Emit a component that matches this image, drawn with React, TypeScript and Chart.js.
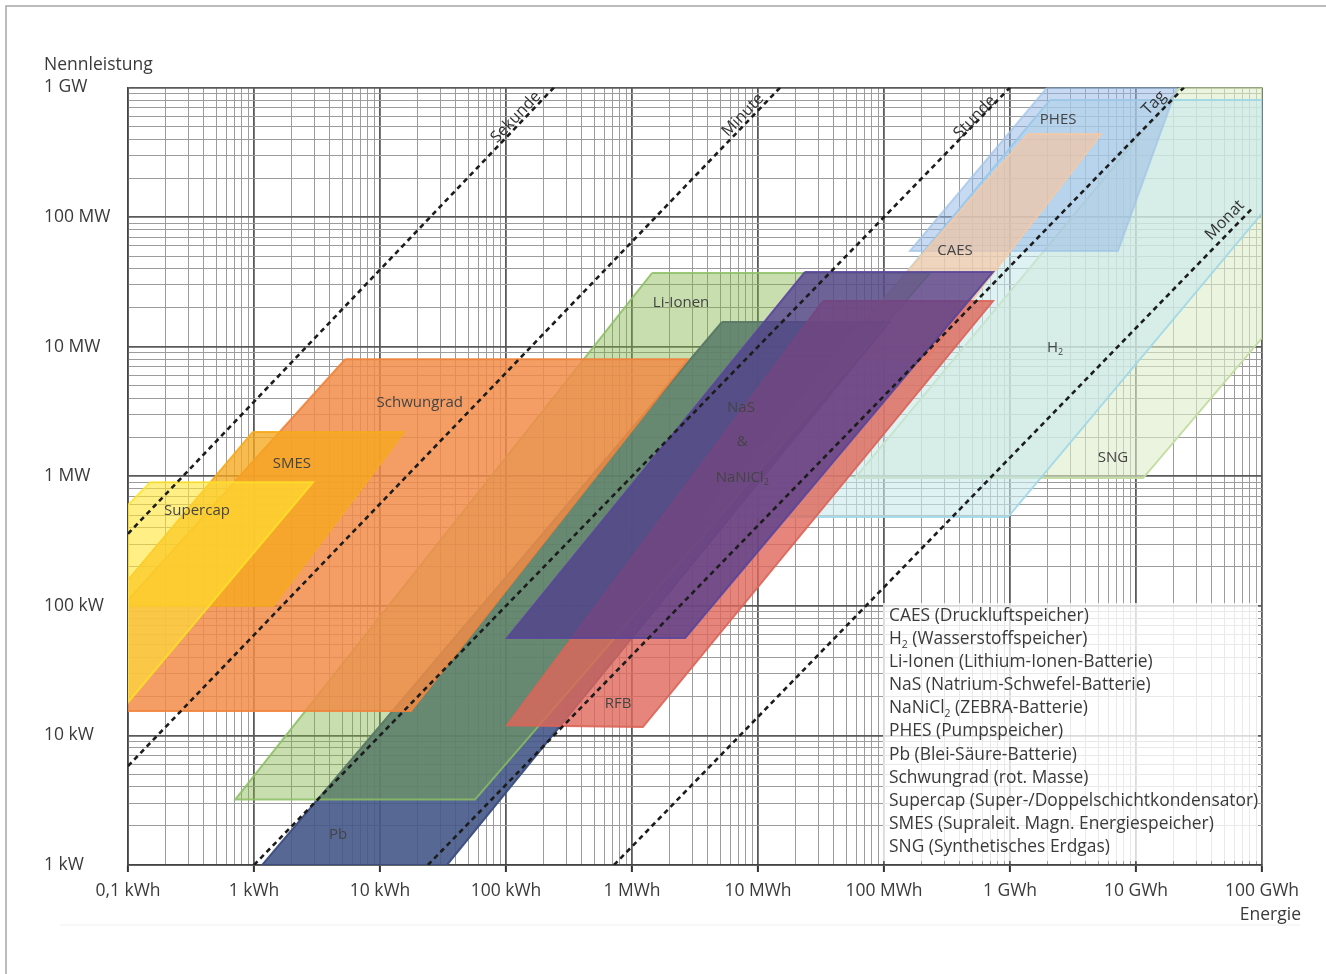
import React, { useEffect, useRef } from 'react';
import { Chart, registerables } from 'chart.js';

Chart.register(...registerables);

const FONT = "'Open Sans', 'Noto Sans', 'DejaVu Sans', sans-serif";
const INK = '#3a3a3a';

// ---- Axis tick labels (one per decade) ----
const xTickLabels = ['0,1 kWh', '1 kWh', '10 kWh', '100 kWh', '1 MWh', '10 MWh', '100 MWh', '1 GWh', '10 GWh', '100 GWh'];
const yTickLabels = ['1 kW', '10 kW', '100 kW', '1 MW', '10 MW', '100 MW', '1 GW'];

// ---- Storage regions: polygon vertices, energy (kWh) and power (kW) ----
const supercapEnergy = [0.15, 2.94, 0.1, 0.1];
const supercapPower = [900, 900, 18, 600];
const smesEnergy = [0.98, 15.5, 1.42, 0.1, 0.1];
const smesPower = [2200, 2200, 100, 100, 158];
const schwungradEnergy = [5.3, 2780, 17.6, 0.1, 0.1];
const schwungradPower = [8000, 8000, 15.4, 15.4, 111];
const liIonenEnergy = [1440, 232000, 56.8, 0.71];
const liIonenPower = [37000, 37000, 3.2, 3.2];
const pbEnergy = [5180, 110000, 34, 1.16];
const pbPower = [15500, 15500, 1, 1];
const nasEnergy = [23600, 733000, 2640, 102];
const nasPower = [37700, 37700, 56.5, 56.5];
const rfbEnergy = [32800, 733000, 1220, 102];
const rfbPower = [22500, 22500, 11.6, 12];
const caesEnergy = [1.39e6, 5.27e6, 215000, 37300];
const caesPower = [437000, 437000, 7900, 7900];
const phesEnergy = [1.97e6, 2.11e7, 7.19e6, 160600];
const phesPower = [1e6, 1e6, 54700, 54700];
const h2Energy = [2.07e6, 1e8, 1e8, 964000, 3660];
const h2Power = [800000, 800000, 107000, 484, 484];
const sngEnergy = [2.23e7, 1e8, 1e8, 1.14e7, 58900];
const sngPower = [1e6, 1e6, 11650, 968, 968];

// ---- Discharge-time reference lines (endpoints) ----
const sekundeEnergy = [0.1, 240];
const sekundePower = [360, 1e6];
const minuteEnergy = [0.1, 15000];
const minutePower = [5.8, 1e6];
const stundeEnergy = [1, 1e6];
const stundePower = [1, 1e6];
const tagEnergy = [24, 2.4e7];
const tagPower = [1, 1e6];
const monatEnergy = [720, 8.6e7];
const monatPower = [1, 1.2e5];

// ---- Text annotations (energy kWh, power kW) ----
const regionLabels: [string, number, number][] = [
  ['PHES', 2.41e6, 560000],
  ['CAES', 366000, 54700],
  ['Li-Ionen', 2450, 21700],
  ['H_2', 2.28e6, 9750],
  ['Schwungrad', 20.7, 3670],
  ['NaS', 7330, 3360],
  ['&', 7500, 1835],
  ['NaNiCl_2', 7500, 968],
  ['SMES', 2.0, 1243],
  ['SNG', 6.56e6, 1381],
  ['Supercap', 0.353, 539],
  ['RFB', 774, 17.5],
  ['Pb', 4.64, 1.7],
];
const lineLabelNames = ['Sekunde', 'Minute', 'Stunde', 'Tag', 'Monat'];
const lineLabelEnergy = [120, 7600, 527000, 1.39e7, 5.08e7];
const lineLabelPower = [591000, 612000, 591000, 758000, 94800];

const legendEntries = [
  'CAES (Druckluftspeicher)',
  'H_2 (Wasserstoffspeicher)',
  'Li-Ionen (Lithium-Ionen-Batterie)',
  'NaS (Natrium-Schwefel-Batterie)',
  'NaNiCl_2 (ZEBRA-Batterie)',
  'PHES (Pumpspeicher)',
  'Pb (Blei-Säure-Batterie)',
  'Schwungrad (rot. Masse)',
  'Supercap (Super-/Doppelschichtkondensator)',
  'SMES (Supraleit. Magn. Energiespeicher)',
  'SNG (Synthetisches Erdgas)',
];

function pts(e: number[], p: number[], close: boolean) {
  const a = e.map((v, i) => ({ x: v, y: p[i] }));
  if (close) a.push({ x: e[0], y: p[0] });
  return a;
}

function region(label: string, e: number[], p: number[], fill: string, edge: string) {
  return {
    label,
    data: pts(e, p, true),
    backgroundColor: fill,
    borderColor: edge,
    borderWidth: 2,
    fill: 'shape',
    pointRadius: 0,
    tension: 0,
    clip: 0,
  };
}

function dashed(label: string, e: number[], p: number[]) {
  return {
    label,
    data: pts(e, p, false),
    borderColor: '#1c1c1c',
    borderWidth: 2.6,
    borderDash: [5, 4],
    fill: false,
    pointRadius: 0,
    tension: 0,
    clip: 0,
  };
}

const lineSets = [
  [sekundeEnergy, sekundePower],
  [minuteEnergy, minutePower],
  [stundeEnergy, stundePower],
  [tagEnergy, tagPower],
  [monatEnergy, monatPower],
];

function isMajor(v: number | undefined) {
  if (v === undefined || v <= 0) return false;
  const l = Math.log10(v);
  return Math.abs(l - Math.round(l)) < 1e-6;
}

function logTicks(minExp: number, maxExp: number) {
  const t: { value: number }[] = [];
  for (let e = minExp; e < maxExp; e++) {
    for (let m = 1; m < 10; m++) t.push({ value: parseFloat((m * Math.pow(10, e)).toPrecision(6)) });
  }
  t.push({ value: Math.pow(10, maxExp) });
  return t;
}

function drawRich(ctx: CanvasRenderingContext2D, text: string, x: number, y: number, size: number, align: 'left' | 'center' | 'right') {
  const parts: { t: string; sub: boolean }[] = [];
  let buf = '';
  for (let i = 0; i < text.length; i++) {
    if (text[i] === '_' && i + 1 < text.length) {
      if (buf) parts.push({ t: buf, sub: false });
      buf = '';
      parts.push({ t: text[i + 1], sub: true });
      i++;
    } else buf += text[i];
  }
  if (buf) parts.push({ t: buf, sub: false });
  const widths = parts.map((p) => {
    ctx.font = `${p.sub ? size * 0.6 : size}px ${FONT}`;
    return ctx.measureText(p.t).width;
  });
  const total = widths.reduce((s, w) => s + w, 0);
  let cx = align === 'center' ? x - total / 2 : align === 'right' ? x - total : x;
  ctx.textAlign = 'left';
  ctx.textBaseline = 'middle';
  parts.forEach((p, k) => {
    ctx.font = `${p.sub ? size * 0.6 : size}px ${FONT}`;
    ctx.fillText(p.t, cx, p.sub ? y + size * 0.32 : y);
    cx += widths[k];
  });
}

const decor = {
  id: 'decor',
  afterDatasetsDraw(chart: any) {
    const { ctx, chartArea: a, scales } = chart;
    const xs = scales.x;
    const ys = scales.y;
    ctx.save();
    // region labels
    ctx.fillStyle = '#444';
    regionLabels.forEach(([t, e, p]) => {
      drawRich(ctx, t, xs.getPixelForValue(e), ys.getPixelForValue(p), 15, 'center');
    });
    // discharge-time line labels
    ctx.fillStyle = '#333';
    lineLabelNames.forEach((t, i) => {
      const [le, lp] = lineSets[i];
      const dx = xs.getPixelForValue(le[1]) - xs.getPixelForValue(le[0]);
      const dy = ys.getPixelForValue(lp[1]) - ys.getPixelForValue(lp[0]);
      const ang = Math.atan2(dy, dx);
      ctx.save();
      ctx.translate(xs.getPixelForValue(lineLabelEnergy[i]), ys.getPixelForValue(lineLabelPower[i]));
      ctx.rotate(ang);
      ctx.font = `16px ${FONT}`;
      ctx.textAlign = 'center';
      ctx.textBaseline = 'middle';
      ctx.fillText(t, 0, 0);
      ctx.restore();
    });
    // legend box
    const lx = a.left + 761;
    const ly0 = a.bottom - 249;
    const step = 23.1;
    ctx.fillStyle = 'rgba(255,255,255,0.78)';
    ctx.fillRect(lx - 6, ly0 - 13, a.right - lx + 2, step * legendEntries.length + 4);
    ctx.fillStyle = INK;
    legendEntries.forEach((t, i) => drawRich(ctx, t, lx, ly0 + i * step, 17.4, 'left'));
    ctx.restore();
  },
  afterDraw(chart: any) {
    const { ctx, chartArea: a } = chart;
    ctx.save();
    ctx.fillStyle = INK;
    drawRich(ctx, 'Nennleistung', 44, a.top - 22, 17.5, 'left');
    drawRich(ctx, 'Energie', 1301, a.bottom + 50, 17.5, 'right');
    // outer frame
    ctx.strokeStyle = '#a6a6a6';
    ctx.lineWidth = 1.5;
    ctx.beginPath();
    ctx.moveTo(6, 974);
    ctx.lineTo(6, 6);
    ctx.lineTo(1326, 6);
    ctx.stroke();
    ctx.strokeStyle = '#efefef';
    ctx.lineWidth = 1;
    ctx.beginPath();
    ctx.moveTo(60, 925);
    ctx.lineTo(1300, 925);
    ctx.stroke();
    ctx.restore();
  },
};

export default function App() {
  const ref = useRef<HTMLCanvasElement | null>(null);
  useEffect(() => {
    if (!ref.current) return;
    // first dataset is drawn on top
    const datasets: any[] = [
      ...lineSets.map(([e, p], i) => dashed(lineLabelNames[i], e, p)),
      region('NaS & NaNiCl2', nasEnergy, nasPower, 'rgba(82,60,142,0.76)', 'rgba(90,70,155,0.9)'),
      region('RFB', rfbEnergy, rfbPower, 'rgba(222,102,90,0.8)', 'rgba(220,100,88,0.9)'),
      region('Supercap', supercapEnergy, supercapPower, 'rgba(255,228,50,0.6)', 'rgba(255,226,40,0.8)'),
      region('SMES', smesEnergy, smesPower, 'rgba(246,168,30,0.78)', 'rgba(246,170,30,0.9)'),
      region('Schwungrad', schwungradEnergy, schwungradPower, 'rgba(242,140,72,0.84)', 'rgba(240,132,60,0.9)'),
      region('Li-Ionen', liIonenEnergy, liIonenPower, 'rgba(128,179,70,0.43)', 'rgba(140,190,100,0.85)'),
      region('Pb', pbEnergy, pbPower, 'rgba(68,88,135,0.9)', 'rgba(60,78,128,0.95)'),
      region('CAES', caesEnergy, caesPower, 'rgba(250,196,155,0.62)', 'rgba(250,200,160,0.75)'),
      region('PHES', phesEnergy, phesPower, 'rgba(150,185,228,0.52)', 'rgba(160,195,232,0.7)'),
      region('H2', h2Energy, h2Power, 'rgba(200,234,236,0.6)', 'rgba(160,215,232,0.9)'),
      region('SNG', sngEnergy, sngPower, 'rgba(222,236,200,0.6)', 'rgba(195,220,160,0.95)'),
    ];
    const gridColor = (c: any) => {
      const v = c.tick ? c.tick.value : undefined;
      return isMajor(v) ? '#5a5a5a' : '#9c9c9c';
    };
    const gridWidth = (c: any) => (isMajor(c.tick ? c.tick.value : undefined) ? 1.8 : 1);
    const chart = new Chart(ref.current, {
      type: 'line',
      data: { datasets },
      options: {
        responsive: false,
        animation: false,
        devicePixelRatio: 1,
        events: [],
        layout: { padding: { left: 44, top: 87.5, right: 64, bottom: 0 } },
        plugins: { legend: { display: false }, tooltip: { enabled: false } },
        scales: {
          x: {
            type: 'logarithmic',
            min: 0.1,
            max: 1e8,
            afterBuildTicks: (s: any) => { s.ticks = logTicks(-1, 8); },
            afterFit: (s: any) => { s.height = 109; },
            grid: {
              color: gridColor,
              lineWidth: gridWidth,
              drawTicks: true,
              tickLength: 7,
              tickWidth: 2,
              tickColor: (c: any) => (isMajor(c.tick ? c.tick.value : undefined) ? '#333' : 'rgba(0,0,0,0)'),
            },
            border: { display: true, color: '#444', width: 1.5 },
            ticks: {
              autoSkip: false,
              maxRotation: 0,
              minRotation: 0,
              padding: 9,
              color: INK,
              font: { family: FONT, size: 17.5 },
              callback: (v: any) => {
                const n = Number(v);
                if (!isMajor(n)) return '';
                return xTickLabels[Math.round(Math.log10(n)) + 1] ?? '';
              },
            },
          },
          y: {
            type: 'logarithmic',
            min: 1,
            max: 1e6,
            afterBuildTicks: (s: any) => { s.ticks = logTicks(0, 6); },
            afterFit: (s: any) => { s.width = 84; },
            grid: { color: gridColor, lineWidth: gridWidth, drawTicks: false },
            border: { display: true, color: '#444', width: 1.5 },
            ticks: {
              autoSkip: false,
              crossAlign: 'far',
              padding: 0,
              color: INK,
              font: { family: FONT, size: 17.5 },
              callback: (v: any) => {
                const n = Number(v);
                if (!isMajor(n)) return '';
                return yTickLabels[Math.round(Math.log10(n))] ?? '';
              },
            },
          },
        },
      } as any,
      plugins: [decor],
    });
    return () => chart.destroy();
  }, []);
  return (
    <canvas
      ref={ref}
      width={1326}
      height={974}
      style={{ position: 'fixed', left: 0, top: 0, width: 1326, height: 974, background: '#fff' }}
    />
  );
}
